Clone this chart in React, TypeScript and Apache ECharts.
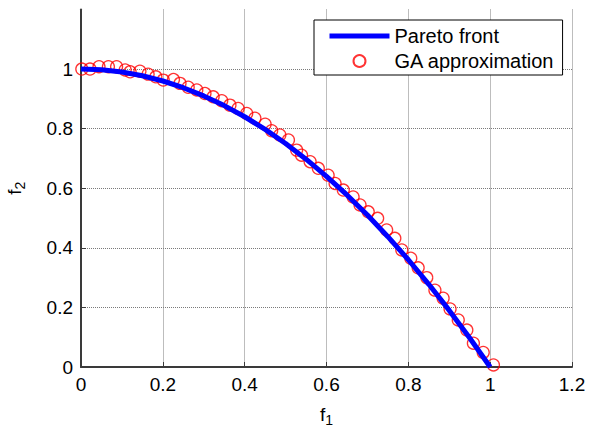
import React, { useEffect, useRef } from "react";
import * as echarts from "echarts";

// Pareto front
const frontF1 = [0, 0.05, 0.1, 0.15, 0.2, 0.25, 0.3, 0.35, 0.4, 0.45, 0.5, 0.55, 0.6, 0.65, 0.7, 0.75, 0.8, 0.85, 0.9, 0.95, 1.0];
const frontF2 = [1, 0.9975, 0.99, 0.9775, 0.96, 0.9375, 0.91, 0.8775, 0.84, 0.7975, 0.75, 0.6975, 0.64, 0.5775, 0.51, 0.4375, 0.36, 0.2775, 0.19, 0.0975, 0];

// GA approximation points
const gaF1 = [0.002, 0.022, 0.044, 0.067, 0.087, 0.108, 0.12, 0.144, 0.164, 0.183, 0.201, 0.226, 0.242, 0.262, 0.283, 0.303, 0.323, 0.344, 0.364, 0.384, 0.405, 0.425, 0.45, 0.466, 0.486, 0.507, 0.527, 0.539, 0.56, 0.58, 0.604, 0.621, 0.641, 0.665, 0.682, 0.702, 0.725, 0.747, 0.767, 0.784, 0.806, 0.824, 0.845, 0.865, 0.885, 0.902, 0.922, 0.943, 0.959, 0.983, 1.008];
const gaF2 = [1.0, 1.0, 1.008, 1.008, 1.008, 0.997, 0.991, 0.993, 0.983, 0.974, 0.963, 0.965, 0.952, 0.939, 0.93, 0.918, 0.907, 0.894, 0.879, 0.868, 0.851, 0.835, 0.815, 0.793, 0.779, 0.762, 0.728, 0.711, 0.689, 0.667, 0.644, 0.616, 0.594, 0.571, 0.544, 0.521, 0.499, 0.46, 0.432, 0.393, 0.365, 0.333, 0.3, 0.258, 0.231, 0.195, 0.158, 0.124, 0.08, 0.049, 0.007];

const seriesNames = ["Pareto front", "GA approximation"];

const FONT = "'Liberation Sans', Arial, Helvetica, sans-serif";
const AXIS_COLOR = "#3a3a3a";

export default function App() {
  const ref = useRef<HTMLDivElement>(null);

  useEffect(() => {
    if (!ref.current) return;
    const chart = echarts.init(ref.current, undefined, { renderer: "svg" });

    const axisCommon = {
      min: 0,
      max: 1.2,
      interval: 0.2,
      axisLine: { show: true, onZero: false, lineStyle: { color: AXIS_COLOR, width: 2 } },
      axisTick: { show: true, inside: true, length: 5, lineStyle: { color: AXIS_COLOR, width: 1 } },
      axisLabel: { color: "#000", fontSize: 19, fontFamily: FONT },
      splitLine: { show: true, lineStyle: { color: "#7a7a7a", type: "dotted", width: 1 } },
      nameLocation: "middle" as const,
      nameTextStyle: {
        color: "#000",
        fontFamily: FONT,
        rich: {
          f: { fontSize: 19, fontFamily: FONT, color: "#000" },
          s: { fontSize: 14, fontFamily: FONT, color: "#000", verticalAlign: "bottom" as const, padding: [12, 0, 0, 0] },
        },
      },
    };

    chart.setOption({
      animation: false,
      backgroundColor: "#fff",
      grid: { left: 81, right: 23, top: 9.5, bottom: 64, containLabel: false, outerBoundsMode: "none" },
      legend: {
        orient: "vertical",
        left: 314,
        top: 20,
        data: [
          { name: seriesNames[0], itemStyle: { opacity: 0 }, lineStyle: { width: 5, color: "#0000ff" } },
          { name: seriesNames[1], icon: "circle" },
        ],
        itemWidth: 60,
        itemHeight: 12,
        itemGap: 5,
        padding: [6, 8, 4, 13],
        borderColor: "#000",
        borderWidth: 1,
        backgroundColor: "#fff",
        textStyle: { color: "#000", fontSize: 20, fontFamily: FONT },
      },
      xAxis: {
        type: "value",
        ...axisCommon,
        axisLabel: { ...axisCommon.axisLabel, margin: 8 },
        name: "{f|f}{s|1}",
        nameGap: 34,
      },
      yAxis: {
        type: "value",
        ...axisCommon,
        axisLabel: { ...axisCommon.axisLabel, margin: 8, showMaxLabel: false },
        splitLine: { ...axisCommon.splitLine, showMaxLine: false },
        name: "{f|f}{s|2}",
        nameRotate: 90,
        nameGap: 54,
      },
      series: [
        {
          name: seriesNames[0],
          type: "line",
          data: frontF1.map((x, i) => [x, frontF2[i]]),
          symbol: "none",
          showSymbol: false,
          smooth: false,
          lineStyle: { color: "#0000ff", width: 5 },
          itemStyle: { color: "#0000ff" },
          z: 3,
        },
        {
          name: seriesNames[1],
          type: "scatter",
          data: gaF1.map((x, i) => [x, gaF2[i]]),
          symbol: "circle",
          symbolSize: 12,
          itemStyle: { color: "rgba(255,255,255,0)", borderColor: "#ff0000", borderWidth: 1.3 },
          z: 2,
        },
      ],
    });

    return () => chart.dispose();
  }, []);

  return (
    <div
      ref={ref}
      style={{ position: "fixed", left: 0, top: 0, width: 595, height: 431, background: "#fff" }}
    />
  );
}
